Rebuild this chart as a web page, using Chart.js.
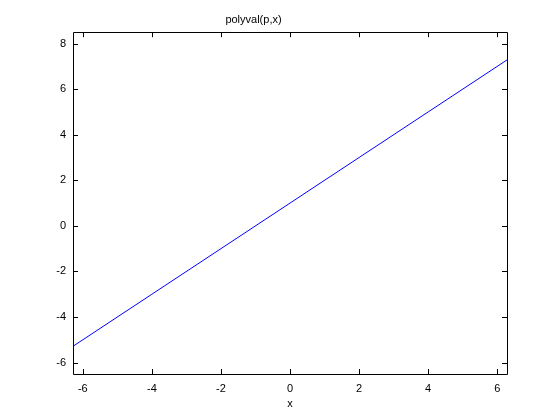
<!DOCTYPE html>
<html>
<head>
<meta charset="utf-8">
<script src="https://cdn.jsdelivr.net/npm/chart.js@4"></script>
<style>
  html, body { margin: 0; padding: 0; background: #fff; }
  canvas { display: block; }
</style>
</head>
<body>
<canvas id="plot" width="560" height="420"></canvas>
<script>
// values (x from -2pi to 2pi, straight line)
const xValues = [-6.2832, -4, -2, 0, 2, 4, 6.2832];
const yValues = [-5.2832, -3, -1, 1, 3, 5, 7.2832];
const xTicks = [-6, -4, -2, 0, 2, 4, 6];
const yTicks = [-6, -4, -2, 0, 2, 4, 6, 8];

const points = xValues.map((x, i) => ({ x: x, y: yValues[i] }));

// MATLAB style: box around the axes, ticks pointing inwards on all four sides
const boxTicks = {
  id: 'boxTicks',
  afterDraw(chart) {
    const ctx = chart.ctx;
    const a = chart.chartArea;
    const xs = chart.scales.x;
    const ys = chart.scales.y;
    const len = 5;
    ctx.save();
    ctx.strokeStyle = '#000';
    ctx.lineWidth = 1;
    ctx.beginPath();
    ctx.rect(Math.round(a.left) + 0.5, Math.round(a.top) + 0.5,
             Math.round(a.right - a.left), Math.round(a.bottom - a.top));
    xTicks.forEach(v => {
      const px = Math.round(xs.getPixelForValue(v)) + 0.5;
      ctx.moveTo(px, a.bottom); ctx.lineTo(px, a.bottom - len);
      ctx.moveTo(px, a.top); ctx.lineTo(px, a.top + len);
    });
    yTicks.forEach(v => {
      const py = Math.round(ys.getPixelForValue(v)) + 0.5;
      ctx.moveTo(a.left, py); ctx.lineTo(a.left + len, py);
      ctx.moveTo(a.right, py); ctx.lineTo(a.right - len, py);
    });
    ctx.stroke();
    ctx.restore();
  }
};

new Chart(document.getElementById('plot'), {
  type: 'scatter',
  data: {
    datasets: [{
      data: points,
      showLine: true,
      borderColor: '#0000ff',
      borderWidth: 1,
      pointRadius: 0,
      fill: false
    }]
  },
  options: {
    responsive: false,
    animation: false,
    layout: { padding: { left: 0, right: 53, top: 0, bottom: 0 } },
    plugins: {
      legend: { display: false },
      tooltip: { enabled: false },
      title: {
        display: true,
        text: 'polyval(p,x)',
        color: '#000',
        font: { family: 'Liberation Sans', size: 11, weight: 'normal' },
        padding: { top: 13, bottom: 6 }
      }
    },
    scales: {
      x: {
        type: 'linear',
        min: -6.2832,
        max: 6.2832,
        afterBuildTicks: s => { s.ticks = xTicks.map(v => ({ value: v })); },
        afterFit: s => { s.height = 46; },
        grid: { display: false, drawTicks: false },
        border: { display: false },
        ticks: {
          color: '#000',
          padding: 8,
          maxRotation: 0,
          font: { family: 'Liberation Sans', size: 11 }
        },
        title: {
          display: true,
          text: 'x',
          color: '#000',
          padding: { top: 2, bottom: 9 },
          font: { family: 'Liberation Sans', size: 11 }
        }
      },
      y: {
        type: 'linear',
        min: -6.5,
        max: 8.5,
        afterBuildTicks: s => { s.ticks = yTicks.map(v => ({ value: v })); },
        afterFit: s => { s.width = 73; },
        grid: { display: false, drawTicks: false },
        border: { display: false },
        ticks: {
          color: '#000',
          padding: 7,
          font: { family: 'Liberation Sans', size: 11 }
        }
      }
    }
  },
  plugins: [boxTicks]
});
</script>
</body>
</html>
